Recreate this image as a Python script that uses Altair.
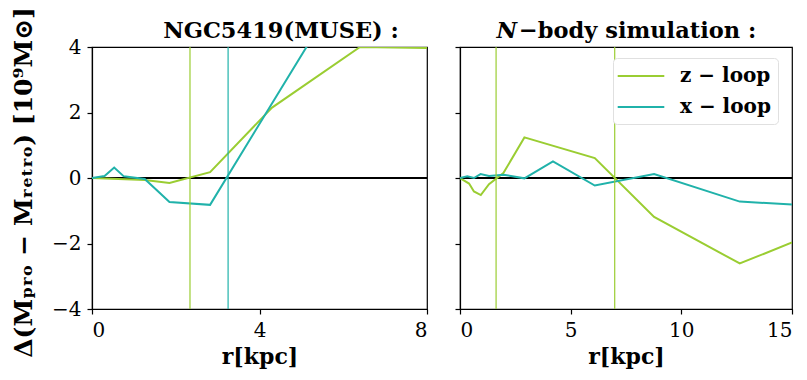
import altair as alt
import pandas as pd

# ---- data ----
series_names = ["z − loop", "x − loop"]
series_colors = ["#9acd32", "#20b2aa"]

# Left panel: NGC5419 (MUSE)
muse_z_r = [0, 1.26, 1.85, 2.82, 4.3, 6.4, 8.0]
muse_z_v = [0, -0.06, -0.15, 0.18, 2.15, 4.0, 3.97]
muse_x_r = [0, 0.3, 0.53, 0.76, 1.26, 1.85, 2.82, 5.6]
muse_x_v = [0, 0.06, 0.32, 0.05, -0.03, -0.73, -0.82, 5.0]
muse_vlines_r = [2.34, 3.25]
muse_vlines_s = ["z − loop", "x − loop"]

# Right panel: N-body simulation
sim_z_r = [0, 0.41, 0.63, 0.94, 1.31, 1.96, 2.91, 6.09, 8.77, 12.64, 15]
sim_z_v = [0, -0.17, -0.41, -0.52, -0.19, 0.15, 1.24, 0.61, -1.19, -2.61, -1.97]
sim_x_r = [0, 0.33, 0.63, 0.93, 1.31, 1.96, 2.91, 4.2, 6.09, 8.77, 12.64, 15]
sim_x_v = [0, 0.05, 0, 0.12, 0.06, 0.1, -0.01, 0.51, -0.23, 0.12, -0.72, -0.81]
sim_vlines_r = [1.63, 6.99]
sim_vlines_s = ["z − loop", "z − loop"]

y_ticks = [-4, -2, 0, 2, 4]
muse_x_ticks = [0, 4, 8]
sim_x_ticks = [0, 5, 10, 15]

FONT = "DejaVu Serif"
TITLE_SIZE = 22.5


def long_df(zr, zv, xr, xv):
    rows = [{"r": r, "v": v, "s": series_names[0]} for r, v in zip(zr, zv)]
    rows += [{"r": r, "v": v, "s": series_names[1]} for r, v in zip(xr, xv)]
    return pd.DataFrame(rows)


def title_mark(text, x, align="center", style="normal"):
    return alt.Chart(pd.DataFrame({"t": [text]})).mark_text(
        font=FONT, fontSize=TITLE_SIZE, fontWeight="bold", fontStyle=style,
        align=align, baseline="alphabetic", color="black"
    ).encode(text="t:N", x=alt.value(x), y=alt.value(-9))


def panel(df, vdf, xmax, xticks, w, show_y, legend, titles):
    xenc = alt.X("r:Q", scale=alt.Scale(domain=[0, xmax], nice=False),
                 axis=alt.Axis(values=xticks, title="r[kpc]"))
    if show_y:
        yax = alt.Axis(values=y_ticks, titleY=135,
                       title="Δ(Mₚᵣₒ − Mᵣₑₜᵣₒ) [10⁹M⊙]")
    else:
        yax = alt.Axis(values=y_ticks, labels=False, title=None)
    yenc = alt.Y("v:Q", scale=alt.Scale(domain=[-4, 4], nice=False), axis=yax)
    cscale = alt.Scale(domain=series_names, range=series_colors)

    zero = alt.Chart(df).mark_rule(color="black", strokeWidth=1.5).encode(
        y=alt.datum(0, scale=alt.Scale(domain=[-4, 4], nice=False)))
    lines = alt.Chart(df).mark_line(clip=True, strokeWidth=2).encode(
        x=xenc, y=yenc,
        color=alt.Color("s:N", scale=cscale, sort=series_names, legend=legend),
        order=alt.Order("r:Q"))
    vl = alt.Chart(vdf).mark_rule(strokeWidth=1.2).encode(
        x=alt.X("r:Q"),
        color=alt.Color("s:N", scale=cscale, legend=None))
    return alt.layer(zero, lines, vl, *titles).properties(width=w, height=262)


legend = alt.Legend(
    title=None, orient="none", legendX=153, legendY=11,
    symbolType="M-2.33,0H2.33", symbolSize=400, symbolStrokeWidth=2,
    symbolOffset=10,
    labelFont=FONT, labelFontSize=20, labelFontWeight="bold",
    labelColor="black", strokeColor="#e0e0e0", fillColor="white",
    cornerRadius=4, padding=7, rowPadding=10, labelOffset=28)

left = panel(long_df(muse_z_r, muse_z_v, muse_x_r, muse_x_v),
             pd.DataFrame({"r": muse_vlines_r, "s": muse_vlines_s}),
             8, muse_x_ticks, 335, True, None,
             [title_mark("NGC5419(MUSE) :", 189)])
right = panel(long_df(sim_z_r, sim_z_v, sim_x_r, sim_x_v),
              pd.DataFrame({"r": sim_vlines_r, "s": sim_vlines_s}),
              15, sim_x_ticks, 332, False, legend,
              [title_mark("N", 57, "right", "italic"),
               title_mark("−body simulation :", 59, "left")])

chart = alt.hconcat(left, right, spacing=24).resolve_scale(
    color="independent").resolve_legend(color="independent").properties(
    padding={"left": 10, "top": 6, "right": 5, "bottom": 5}
).configure_view(stroke="black", strokeWidth=1.2).configure_axis(
    grid=False, domainColor="black", tickColor="black", tickSize=5,
    labelFont=FONT, labelFontSize=20, labelColor="black", labelPadding=6,
    titleFont=FONT, titleFontSize=22, titleFontWeight="bold",
    titleColor="black", domainWidth=1.2, tickWidth=1.2
).configure_axisY(titlePadding=15, titleFontSize=25).configure_axisX(titlePadding=6)

chart.save("out.html", embed_options={"renderer": "svg", "actions": False})
